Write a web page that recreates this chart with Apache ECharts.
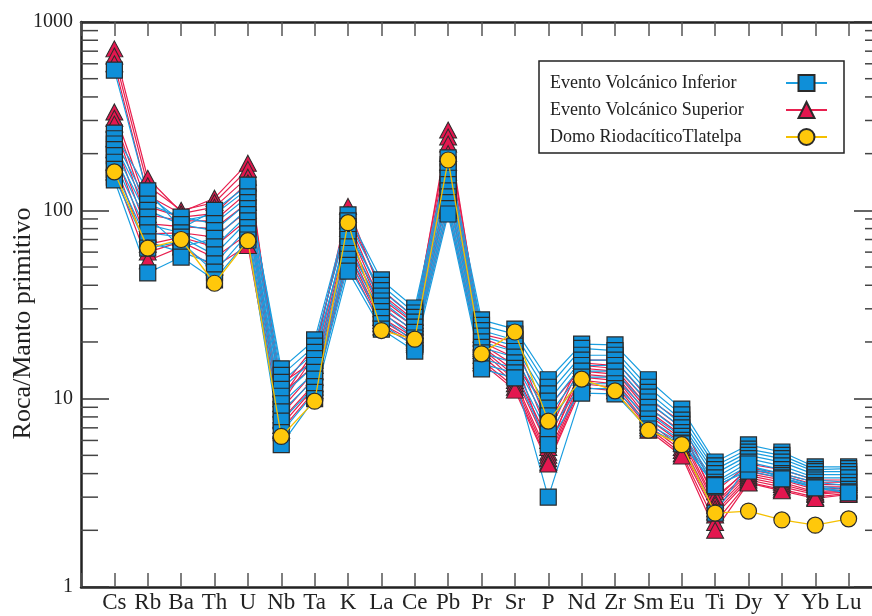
<!DOCTYPE html>
<html><head><meta charset="utf-8">
<script src="https://cdn.jsdelivr.net/npm/echarts@6/dist/echarts.min.js"></script>
<style>html,body{margin:0;padding:0;background:#fff}#c{width:872px;height:616px}</style>
</head><body><div id="c"></div>
<script>
const elements = ['Cs','Rb','Ba','Th','U','Nb','Ta','K','La','Ce','Pb','Pr','Sr','P','Nd','Zr','Sm','Eu','Ti','Dy','Y','Yb','Lu'];
const yMajorTicks = [1, 10, 100, 1000];
const yTickLabels = ['1', '10', '100', '1000'];
const yMinorTicks = [2,3,4,5,6,7,8,9,20,30,40,50,60,70,80,90,200,300,400,500,600,700,800,900];

const NAME_INF = 'Evento Volcánico Inferior';
const NAME_SUP = 'Evento Volcánico Superior';
const NAME_DOMO = 'Domo RiodacíticoTlatelpa';

// Evento Volcánico Inferior (one row per sample, in element order)
const inferiorSamples = [
  [555, 120, 88, 95, 130, 14.4, 20.5, 94.5, 42.7, 30.3, 190, 26.2, 23.4, 12.6, 19.5, 19.3, 12.6, 8.8, 4.61, 5.68, 5.21, 4.34, 4.34],
  [257, 127, 80, 100, 136, 13.3, 19.0, 88, 40, 28.5, 175, 24.5, 22.0, 11.5, 18.5, 18.0, 11.5, 8.2, 4.4, 5.4, 5.0, 4.2, 4.25],
  [240, 108, 92, 85, 118, 12.2, 17.6, 76, 37.5, 27.0, 160, 23.0, 20.5, 10.6, 17.0, 17.0, 10.8, 7.7, 4.2, 5.2, 4.8, 4.1, 4.1],
  [225, 100, 84, 78, 110, 11.2, 16.3, 82, 35, 25.5, 148, 21.5, 19.0, 9.7, 16.0, 16.0, 10.2, 7.3, 4.0, 5.0, 4.6, 3.95, 3.95],
  [210, 92, 64, 71, 102, 10.3, 15.0, 70, 33, 24.0, 137, 20.0, 17.8, 8.9, 15.0, 15.0, 9.6, 7.0, 3.8, 4.8, 4.4, 3.8, 3.8],
  [195, 84, 76, 64, 95, 9.4, 13.8, 64, 31, 22.5, 127, 18.7, 16.6, 8.1, 14.0, 14.0, 9.0, 6.6, 3.6, 4.6, 4.2, 3.7, 3.6],
  [180, 76, 72, 58, 88, 8.5, 12.7, 59, 29, 21.0, 118, 17.5, 15.5, 7.3, 13.0, 13.0, 8.4, 6.3, 3.5, 4.4, 4.0, 3.6, 3.45],
  [165, 68, 60, 52, 81, 7.6, 11.6, 55, 27, 20.0, 110, 16.3, 14.5, 6.5, 12.0, 12.0, 7.8, 6.0, 3.4, 4.25, 3.9, 3.45, 3.3],
  [150, 63, 68, 47, 75, 6.6, 10.8, 51, 25, 19.0, 102, 15.3, 13.7, 5.7, 11.3, 11.3, 7.3, 5.8, 3.45, 4.13, 3.8, 3.4, 3.2],
  [145, 46.5, 56.5, 42.7, 69.6, 5.7, 10.0, 47.6, 23.4, 17.9, 95.6, 14.4, 12.9, 3.0, 10.7, 10.6, 6.9, 5.75, 2.47, 4.5, 3.75, 3.36, 3.16]
];

// Evento Volcánico Superior
const superiorSamples = [
  [720, 148, 98, 116, 178, 9.4, 17, 105, 36, 26, 267, 21, 18, 6.5, 15.5, 15, 9.5, 7.0, 2.9, 4.3, 4.0, 3.6, 3.6],
  [660, 135, 100, 110, 165, 10.0, 18, 95, 38, 27, 245, 22, 20, 7.2, 16, 16, 10, 7.5, 3.2, 4.5, 4.2, 3.7, 3.7],
  [600, 120, 96, 104, 150, 11.3, 19, 88, 34, 25, 225, 20, 16.5, 5.2, 15, 14.5, 9.0, 6.7, 3.0, 4.2, 3.9, 3.5, 3.5],
  [333, 105, 92, 96, 140, 12.0, 16, 80, 32, 24, 200, 19.5, 15, 9.0, 14.5, 14, 8.6, 6.4, 2.8, 4.1, 3.8, 3.4, 3.4],
  [308, 95, 88, 88, 125, 10.6, 15, 75, 30, 23, 180, 19, 14, 6.0, 14, 13.5, 8.2, 6.1, 2.72, 4.0, 3.7, 3.3, 3.35],
  [287, 85, 82, 80, 110, 8.8, 14, 70, 28.5, 22, 160, 18.5, 13.2, 5.5, 13.5, 13, 7.8, 5.8, 2.6, 3.9, 3.6, 3.2, 3.3],
  [240, 75, 76, 72, 100, 8.2, 13, 65, 27, 21, 140, 18, 12.5, 5.0, 13, 12.5, 7.5, 5.5, 2.5, 3.8, 3.5, 3.15, 3.25],
  [210, 66, 72, 64, 90, 7.7, 12, 60, 26, 20.5, 125, 17, 12, 4.8, 12.5, 12, 7.2, 5.3, 2.41, 3.7, 3.4, 3.1, 3.2],
  [180, 60, 68, 56, 75, 7.2, 11.5, 57, 25, 20, 110, 16, 11.5, 4.6, 12, 11.5, 7.0, 5.1, 2.2, 3.6, 3.3, 3.0, 3.15],
  [160, 54, 64, 50, 65, 6.8, 11, 54, 24, 19.5, 100, 15.5, 11.1, 4.5, 11.5, 11, 6.8, 4.96, 2.0, 3.57, 3.24, 2.95, 3.1]
];

// Domo Riodacítico Tlatelpa
const domoSample = [160, 63, 70, 41, 69, 6.3, 9.7, 86, 23, 20.7, 185, 17.3, 22.6, 7.6, 12.7, 11.0, 6.8, 5.7, 2.47, 2.53, 2.27, 2.13, 2.30];

const toData = arr => arr.map((v, i) => [i + 1, v]);
const FONT = 'Liberation Serif';
const BORDER = '#2b2b2b';

const series = [];
superiorSamples.forEach(s => series.push({
  type: 'line', name: NAME_SUP, data: toData(s),
  symbol: 'triangle', symbolSize: [17, 16],
  lineStyle: { color: '#e8204f', width: 1.2 },
  itemStyle: { color: '#e3174f', borderColor: BORDER, borderWidth: 1 },
  z: 2, animation: false
}));
inferiorSamples.forEach(s => series.push({
  type: 'line', name: NAME_INF, data: toData(s),
  symbol: 'rect', symbolSize: 16,
  lineStyle: { color: '#1a9ee0', width: 1.2 },
  itemStyle: { color: '#0f8fd8', borderColor: BORDER, borderWidth: 1.2 },
  z: 2, animation: false
}));
series.push({
  type: 'line', name: NAME_DOMO, data: toData(domoSample),
  symbol: 'circle', symbolSize: 16,
  lineStyle: { color: '#f5c000', width: 1.3 },
  itemStyle: { color: '#ffc80b', borderColor: BORDER, borderWidth: 1.2 },
  z: 3, animation: false
});
series.push({
  type: 'custom', name: 'minorTicks', silent: true, z: 5, animation: false,
  data: yMinorTicks.map(v => [0, v]),
  renderItem: (params, api) => {
    const p0 = api.coord([0, api.value(1)]);
    const p1 = api.coord([24, api.value(1)]);
    const st = { stroke: '#444', lineWidth: 1.5 };
    return { type: 'group', children: [
      { type: 'line', shape: { x1: p0[0], y1: p0[1], x2: p0[0] + 17, y2: p0[1] }, style: st },
      { type: 'line', shape: { x1: p1[0] - 17, y1: p1[1], x2: p1[0], y2: p1[1] }, style: st }
    ]};
  }
});

const axisLine = { show: true, onZero: false, lineStyle: { color: '#222', width: 2.5 } };
const xTick = { show: true, inside: true, length: 14, lineStyle: { color: '#555', width: 1.5 } };
const yTick = { show: true, inside: true, length: 28, lineStyle: { color: '#333', width: 1.5 } };

const chart = echarts.init(document.getElementById('c'));
chart.setOption({
  animation: false,
  backgroundColor: '#fff',
  grid: { left: 81, top: 22, bottom: 29, right: -10, containLabel: false, outerBoundsMode: 'none' },
  legend: {
    data: [NAME_INF, NAME_SUP, NAME_DOMO],
    orient: 'vertical', left: 539, top: 61, align: 'right',
    itemWidth: 41, itemHeight: 20, itemGap: 9,
    padding: [13, 16, 7, 11],
    borderColor: '#222', borderWidth: 1.5, backgroundColor: '#fff',
    selectedMode: false,
    formatter: '{t|{name}}',
    textStyle: { fontFamily: FONT, fontSize: 18, color: '#222',
      rich: { t: { width: 231, align: 'left', fontFamily: FONT, fontSize: 18, color: '#222' } } }
  },
  xAxis: [
    { type: 'value', min: 0, max: 24, interval: 1, position: 'bottom',
      axisLine, axisTick: xTick, splitLine: { show: false },
      axisLabel: { formatter: v => elements[v - 1] || '', fontFamily: FONT, fontSize: 23, color: '#222', margin: 4, showMinLabel: true, showMaxLabel: true } },
    { type: 'value', min: 0, max: 24, interval: 1, position: 'top',
      axisLine, axisTick: xTick, splitLine: { show: false }, axisLabel: { show: false } }
  ],
  yAxis: [
    { type: 'log', logBase: 10, min: yMajorTicks[0], max: yMajorTicks[yMajorTicks.length - 1], position: 'left',
      axisLine, axisTick: yTick, splitLine: { show: false }, minorTick: { show: false },
      axisLabel: { formatter: v => yTickLabels[yMajorTicks.indexOf(Math.round(v))] || '', fontFamily: FONT, fontSize: 20, color: '#222', margin: 8 },
      name: 'Roca/Manto primitivo', nameLocation: 'middle', nameGap: 45, nameMoveOverlap: false,
      nameTextStyle: { fontFamily: FONT, fontSize: 26, color: '#222', padding: [0, 38, 0, 0] } },
    { type: 'log', logBase: 10, min: yMajorTicks[0], max: yMajorTicks[yMajorTicks.length - 1], position: 'right',
      axisLine, axisTick: yTick, splitLine: { show: false }, axisLabel: { show: false } }
  ],
  series
});
</script></body></html>
